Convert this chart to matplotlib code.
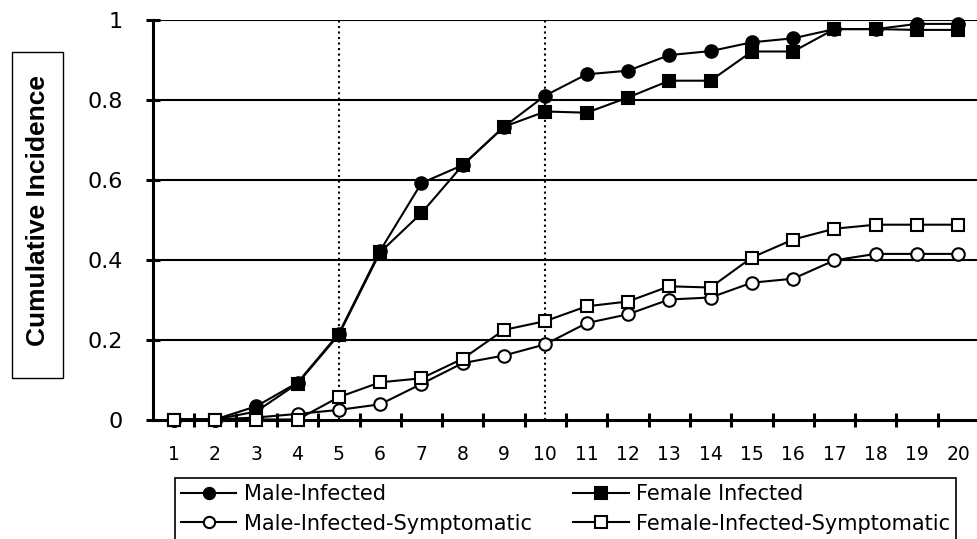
"""Cumulative incidence by visit, male vs female, infected and symptomatic."""
import matplotlib
matplotlib.use('Agg')
import matplotlib.pyplot as plt
import matplotlib.ticker as mticker
from matplotlib.patches import Rectangle
import numpy as np

plt.rcParams.update({
    'font.family': ['DejaVu Sans'],
    'font.size': 13,
    'axes.linewidth': 2.2,
})

# --- data ---
visits = np.arange(1, 21)
male_inf = [0, 0, 0.033, 0.092, 0.215, 0.422, 0.591, 0.636, 0.732, 0.81,
            0.863, 0.872, 0.911, 0.921, 0.943, 0.953, 0.976, 0.976, 0.989, 0.989]
female_inf = [0, 0, 0.02, 0.09, 0.212, 0.418, 0.516, 0.636, 0.732, 0.77,
              0.767, 0.805, 0.847, 0.847, 0.92, 0.92, 0.976, 0.976, 0.974, 0.974]
male_sym = [0, 0, 0.005, 0.014, 0.024, 0.038, 0.089, 0.141, 0.16, 0.188,
            0.241, 0.263, 0.30, 0.305, 0.342, 0.352, 0.398, 0.414, 0.414, 0.414]
female_sym = [0, 0, 0, 0, 0.056, 0.093, 0.103, 0.152, 0.224, 0.246,
              0.283, 0.295, 0.333, 0.33, 0.405, 0.45, 0.477, 0.487, 0.487, 0.487]
y_ticks = [0, 0.2, 0.4, 0.6, 0.8, 1.0]
ref_visits = [5, 10]

W, H = 977, 539
fig = plt.figure(figsize=(W / 100, H / 100), dpi=100)
ax = fig.add_axes([153 / W, 1 - 419.5 / H, (979 - 153) / W, 400 / H])

ax.set_xlim(0.5, 20.5)
ax.set_ylim(0, 1)

for v in y_ticks[1:]:
    ax.axhline(v, color='black', linewidth=1.5, zorder=1)
for v in ref_visits:
    ax.axvline(v, color='black', linestyle=':', linewidth=1.5, zorder=1)

line_kw = dict(color='black', linewidth=1.5, markersize=9, markeredgewidth=1.5,
               markeredgecolor='black', clip_on=False, zorder=3)
h1, = ax.plot(visits, male_inf, marker='o', markerfacecolor='black', label='Male-Infected', **line_kw)
h2, = ax.plot(visits, female_inf, marker='s', markerfacecolor='black', label='Female Infected', **line_kw)
h3, = ax.plot(visits, male_sym, marker='o', markerfacecolor='white',
              label='Male-Infected-Symptomatic', **line_kw)
h4, = ax.plot(visits, female_sym, marker='s', markerfacecolor='white',
              label='Female-Infected-Symptomatic', **line_kw)

ax.spines['top'].set_visible(False)
ax.spines['right'].set_visible(False)

ax.set_xticks(visits)
ax.set_xticks(np.arange(1.5, 20.5, 1), minor=True)
ax.tick_params(axis='x', which='major', length=0, pad=18, labelsize=13.5)
ax.tick_params(axis='x', which='minor', direction='inout', length=10, width=2.2)
ax.set_yticks(y_ticks)
ax.yaxis.set_major_formatter(mticker.FuncFormatter(lambda v, _: f'{v:g}'))
ax.tick_params(axis='y', direction='inout', length=10, width=2.2, pad=17, labelsize=16)

# boxed y label
fig.add_artist(Rectangle((12 / W, 1 - 378 / H), 51 / W, 326 / H, transform=fig.transFigure,
                         facecolor='white', edgecolor='black', linewidth=1))
fig.text(38 / W, 1 - 210 / H, 'Cumulative Incidence', rotation=90, ha='center', va='center',
         fontsize=19, fontweight='bold', family=['Liberation Sans', 'DejaVu Sans'])

leg = fig.legend(handles=[h1, h3, h2, h4], loc='upper left',
                 bbox_to_anchor=(175 / W, 1 - 478 / H), borderaxespad=0,
                 ncol=2, fontsize=15, frameon=True, fancybox=False,
                 edgecolor='black', framealpha=1, handlelength=2.65, handletextpad=0.35,
                 columnspacing=2.0, borderpad=0.3, labelspacing=0.45, numpoints=1,
                 markerscale=0.9)
leg.get_frame().set_linewidth(1.2)

fig.savefig('out.png', dpi=100)
plt.close()
